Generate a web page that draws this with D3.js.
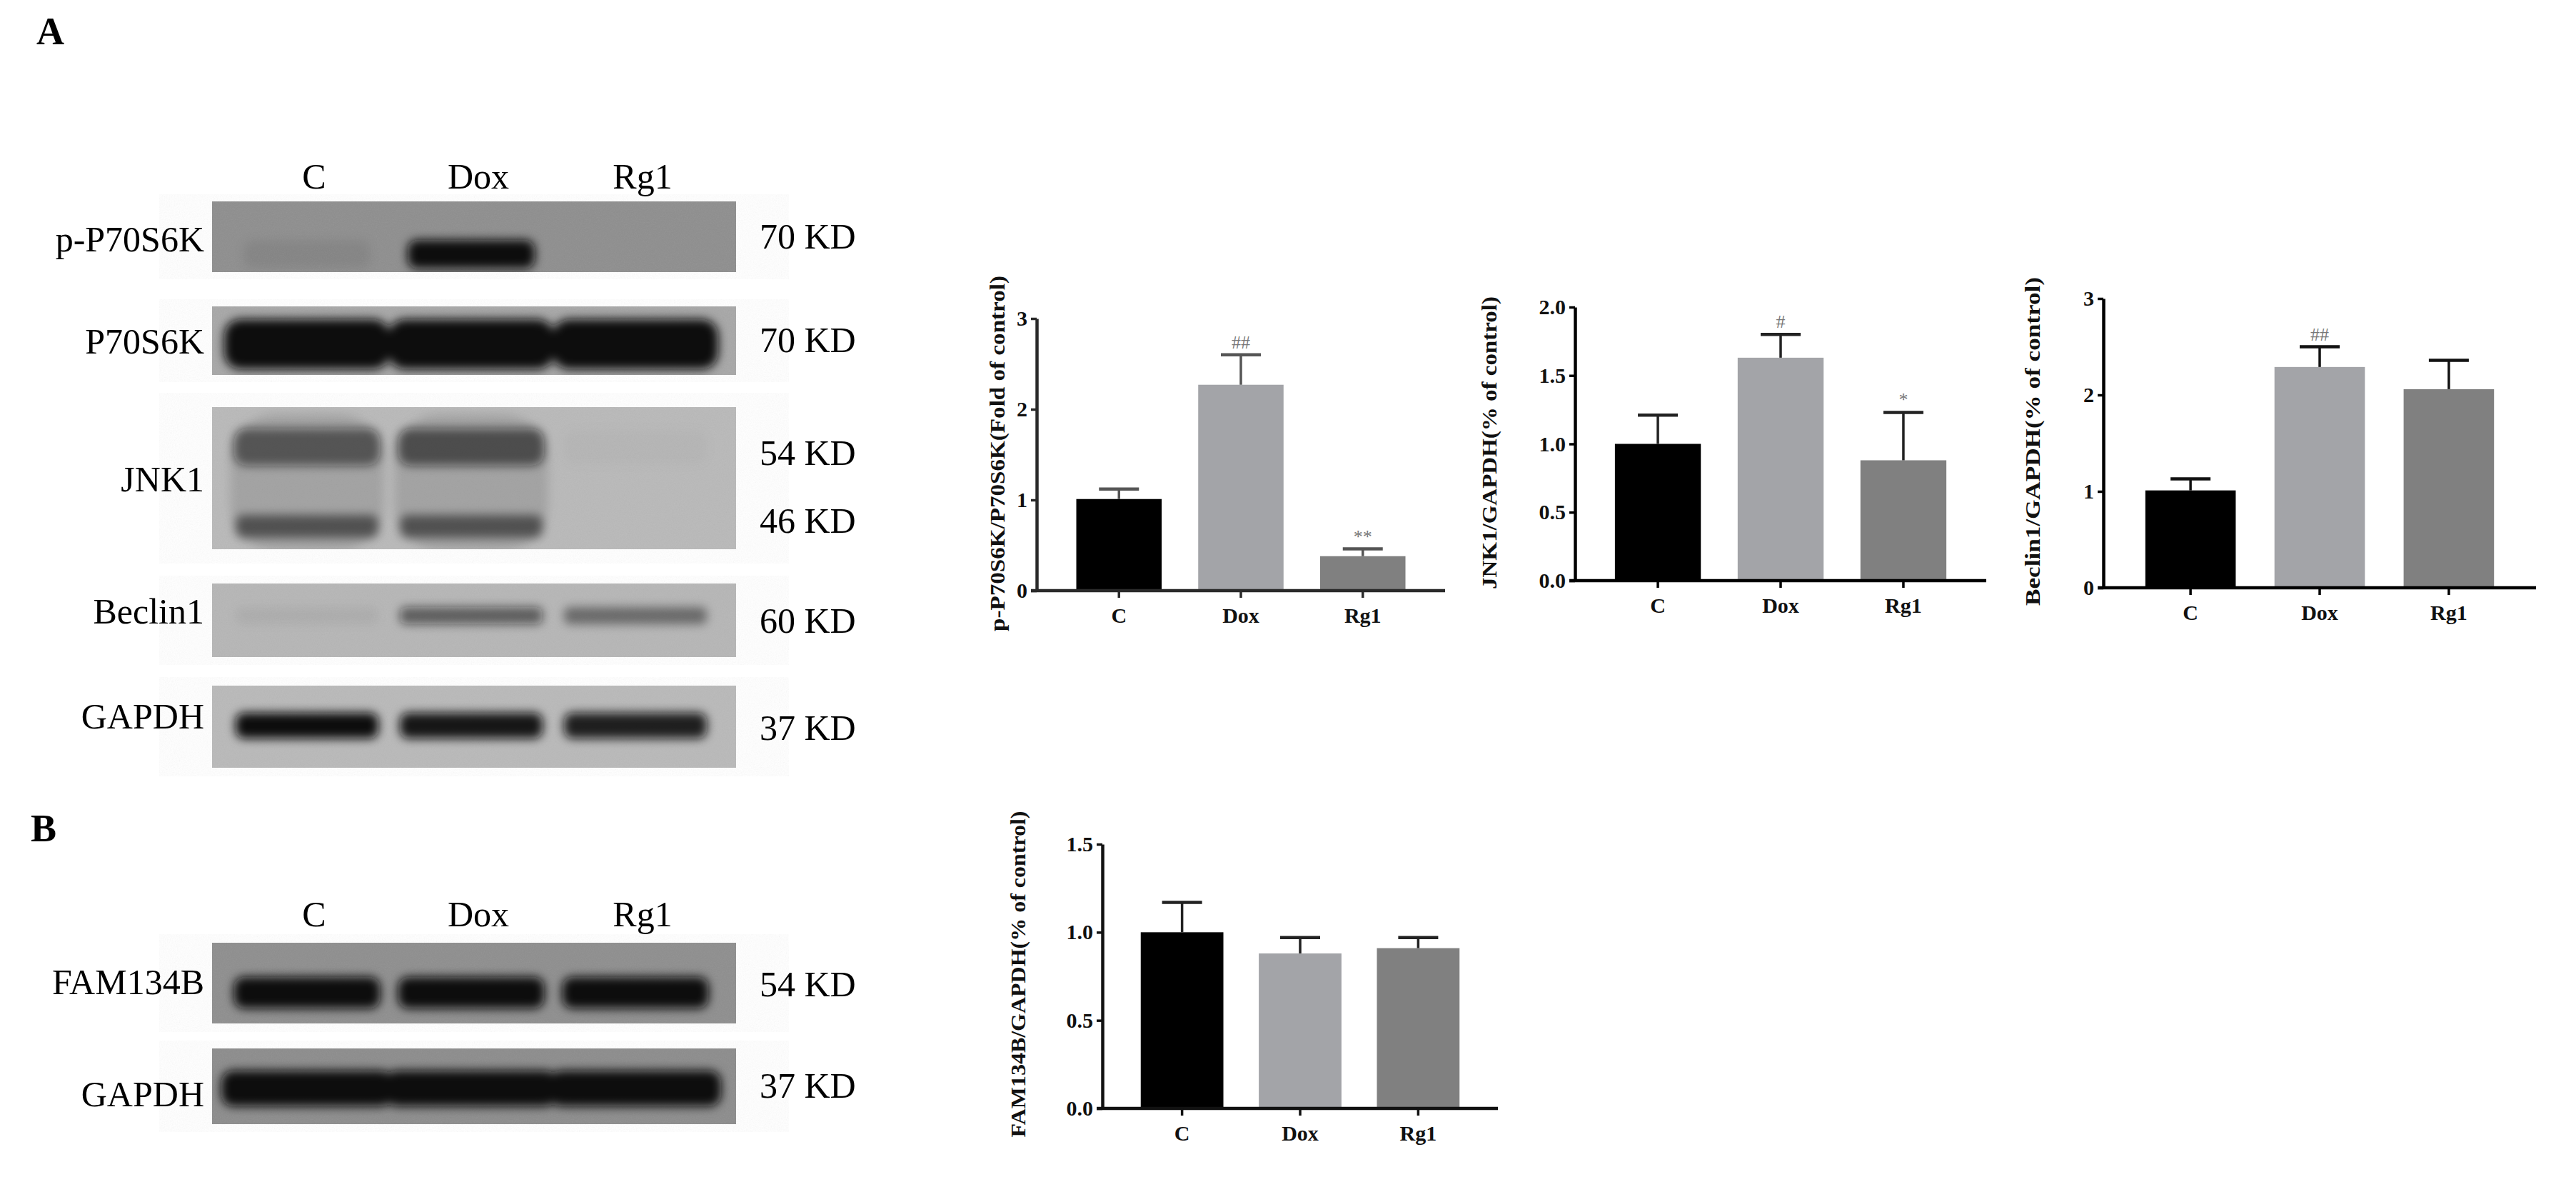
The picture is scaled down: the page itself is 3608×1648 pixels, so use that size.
<!DOCTYPE html>
<html>
<head>
<meta charset="utf-8">
<script src="https://cdn.jsdelivr.net/npm/d3@7"></script>
<style>
body { margin: 0; background: #fff; }
svg { display: block; }
</style>
</head>
<body>
<svg width="3608" height="1648"></svg>
<script>
// groups shared by blots and charts
var groups = ["C", "Dox", "Rg1"];

// densitometry (mean, upper SEM, significance marks)
var pS6KValues = [1.01, 2.27, 0.38];
var pS6KErr = [0.11, 0.33, 0.08];
var pS6KSig = ["", "##", "**"];

var jnkValues = [1.0, 1.63, 0.88];
var jnkErr = [0.21, 0.17, 0.35];
var jnkSig = ["", "#", "*"];

var beclinValues = [1.01, 2.29, 2.06];
var beclinErr = [0.12, 0.21, 0.30];
var beclinSig = ["", "##", ""];

var famValues = [1.0, 0.88, 0.91];
var famErr = [0.17, 0.09, 0.06];
var famSig = ["", "", ""];

var ticksFold = [0, 1, 2, 3];
var ticksJnk = [0, 0.5, 1.0, 1.5, 2.0];
var ticksFam = [0, 0.5, 1.0, 1.5];

// blot labels
var blotNamesA = ["p-P70S6K", "P70S6K", "JNK1", "Beclin1", "GAPDH"];
var blotNamesB = ["FAM134B", "GAPDH"];
var kdLabelsA = ["70 KD", "70 KD", "54 KD", "46 KD", "60 KD", "37 KD"];
var kdLabelsB = ["54 KD", "37 KD"];

// band darkness per lane (C, Dox, Rg1)
var pS6KBand = [0.07, 1.0, 0.0];
var s6kBand = [1.0, 1.0, 1.0];
var jnk54Band = [0.55, 0.6, 0.02];
var jnk46Band = [0.5, 0.5, 0.0];
var jnkSmear = [0.12, 0.12, 0.0];
var beclinBand = [0.05, 0.55, 0.42];
var gapdhBandA = [1.0, 0.95, 0.9];
var famBand = [1.0, 1.0, 1.0];
var gapdhBandB = [1.0, 1.0, 1.0];

var barColors = ["#000000", "#a3a4a8", "#808080"];
var serif = "'Liberation Serif', 'Times New Roman', serif";

var svg = d3.select("svg");
svg.append("rect").attr("width", 3608).attr("height", 1648).attr("fill", "#fff");

var defs = svg.append("defs");
defs.append("filter").attr("id", "blur").attr("x", "-30%").attr("y", "-80%").attr("width", "160%").attr("height", "260%")
    .append("feGaussianBlur").attr("stdDeviation", 7);
var grain = defs.append("filter").attr("id", "grain");
grain.append("feTurbulence").attr("type", "fractalNoise").attr("baseFrequency", 0.7).attr("numOctaves", 2).attr("seed", 4);
grain.append("feColorMatrix").attr("type", "saturate").attr("values", 0);

// panel letters
svg.append("text").attr("x", 51).attr("y", 62).text("A")
    .attr("font-family", serif).attr("font-weight", "bold").attr("font-size", 54);
svg.append("text").attr("x", 43).attr("y", 1178).text("B")
    .attr("font-family", serif).attr("font-weight", "bold").attr("font-size", 54);

// ---------- western blots ----------
var lane = d3.scalePoint().domain(groups).range([430, 890]);
var blotX0 = 297, blotX1 = 1031;

function laneLabels(y) {
    svg.append("g").selectAll("text")
        .data(groups)
        .enter()
        .append("text")
        .attr("x", function (d) { return lane(d) + 10; })
        .attr("y", y)
        .attr("text-anchor", "middle")
        .attr("font-family", serif)
        .attr("font-size", 50)
        .text(function (d) { return d; });
}

function drawBlot(b) {
    var g = svg.append("g");
    g.append("rect")
        .attr("x", blotX0).attr("y", b.top)
        .attr("width", blotX1 - blotX0).attr("height", b.h)
        .attr("fill", b.bg);
    g.append("rect")
        .attr("x", blotX0).attr("y", b.top)
        .attr("width", blotX1 - blotX0).attr("height", b.h)
        .attr("filter", "url(#grain)")
        .attr("opacity", 0.1);
    var clip = "clip" + b.top;
    defs.append("clipPath").attr("id", clip)
        .append("rect").attr("x", blotX0).attr("y", b.top)
        .attr("width", blotX1 - blotX0).attr("height", b.h);
    b.rows.forEach(function (r) {
        g.append("g").attr("clip-path", "url(#" + clip + ")")
            .append("g").attr("filter", "url(#blur)")
            .selectAll("rect")
            .data(r.vals)
            .enter()
            .append("rect")
            .attr("x", function (d, i) { return lane(groups[i]) - r.w / 2; })
            .attr("y", r.cy - r.h / 2)
            .attr("width", r.w)
            .attr("height", r.h)
            .attr("rx", r.h / 3)
            .attr("fill", "#0c0c0c")
            .attr("fill-opacity", function (d) { return d; });
    });
    g.append("text")
        .attr("x", 286).attr("y", b.labelY)
        .attr("text-anchor", "end")
        .attr("font-family", serif).attr("font-size", 50)
        .text(b.name);
    b.kd.forEach(function (k, i) {
        g.append("text")
            .attr("x", 1064).attr("y", b.kdY[i])
            .attr("font-family", serif).attr("font-size", 50)
            .text(k);
    });
}

laneLabels(264);
var blotsA = [
    { name: blotNamesA[0], top: 282, h: 99, bg: "#8e8e8e", labelY: 352, kd: [kdLabelsA[0]], kdY: [348],
      rows: [{ vals: pS6KBand, cy: 356, h: 40, w: 178 }] },
    { name: blotNamesA[1], top: 429, h: 96, bg: "#a7a7a7", labelY: 495, kd: [kdLabelsA[1]], kdY: [493],
      rows: [{ vals: s6kBand, cy: 482, h: 70, w: 232 }] },
    { name: blotNamesA[2], top: 570, h: 199, bg: "#b9b9b9", labelY: 688, kd: [kdLabelsA[2], kdLabelsA[3]], kdY: [651, 746],
      rows: [{ vals: jnkSmear, cy: 675, h: 190, w: 215 },
             { vals: jnk54Band, cy: 626, h: 52, w: 205 },
             { vals: jnk46Band, cy: 737, h: 32, w: 200 }] },
    { name: blotNamesA[3], top: 817, h: 103, bg: "#b6b6b6", labelY: 873, kd: [kdLabelsA[4]], kdY: [886],
      rows: [{ vals: beclinBand, cy: 862, h: 24, w: 200 }] },
    { name: blotNamesA[4], top: 960, h: 115, bg: "#b9b9b9", labelY: 1020, kd: [kdLabelsA[5]], kdY: [1036],
      rows: [{ vals: gapdhBandA, cy: 1016, h: 36, w: 200 }] }
];
blotsA.forEach(drawBlot);

laneLabels(1297);
var blotsB = [
    { name: blotNamesB[0], top: 1320, h: 113, bg: "#8e8e8e", labelY: 1392, kd: [kdLabelsB[0]], kdY: [1395],
      rows: [{ vals: famBand, cy: 1390, h: 44, w: 205 }] },
    { name: blotNamesB[1], top: 1468, h: 106, bg: "#8c8c8c", labelY: 1549, kd: [kdLabelsB[1]], kdY: [1537],
      rows: [{ vals: gapdhBandB, cy: 1524, h: 50, w: 240 }] }
];
blotsB.forEach(drawBlot);

// ---------- bar charts ----------
function drawChart(c) {
    var g = svg.append("g");
    var x = d3.scaleBand().domain(groups).range([c.x0, c.x1]).paddingInner(0.3).paddingOuter(0.325);
    var y = d3.scaleLinear().domain([0, c.max]).range([c.y0, c.y1]);
    var rows = groups.map(function (k, i) {
        return { key: k, v: c.values[i], e: c.err[i], s: c.sig[i], color: barColors[i] };
    });

    g.selectAll(".bar")
        .data(rows)
        .enter()
        .append("rect")
        .attr("x", function (d) { return x(d.key); })
        .attr("y", function (d) { return y(d.v); })
        .attr("width", x.bandwidth())
        .attr("height", function (d) { return y(0) - y(d.v); })
        .attr("fill", function (d) { return d.color; });

    var cap = 56;
    g.selectAll(".stem")
        .data(rows)
        .enter()
        .append("line")
        .attr("x1", function (d) { return x(d.key) + x.bandwidth() / 2; })
        .attr("x2", function (d) { return x(d.key) + x.bandwidth() / 2; })
        .attr("y1", function (d) { return y(d.v); })
        .attr("y2", function (d) { return y(d.v + d.e); })
        .attr("stroke", c.errColor)
        .attr("stroke-width", 3.5);
    g.selectAll(".cap")
        .data(rows)
        .enter()
        .append("line")
        .attr("x1", function (d) { return x(d.key) + x.bandwidth() / 2 - cap / 2; })
        .attr("x2", function (d) { return x(d.key) + x.bandwidth() / 2 + cap / 2; })
        .attr("y1", function (d) { return y(d.v + d.e); })
        .attr("y2", function (d) { return y(d.v + d.e); })
        .attr("stroke", c.errColor)
        .attr("stroke-width", 4.5);
    g.selectAll(".sig")
        .data(rows)
        .enter()
        .append("text")
        .attr("x", function (d) { return x(d.key) + x.bandwidth() / 2; })
        .attr("y", function (d) { return y(d.v + d.e) - 9; })
        .attr("text-anchor", "middle")
        .attr("font-family", serif)
        .attr("font-size", 26)
        .attr("fill", "#777")
        .text(function (d) { return d.s; });

    var ya = g.append("g")
        .attr("transform", "translate(" + c.x0 + ",0)")
        .call(d3.axisLeft(y).tickValues(c.ticks).tickFormat(d3.format(c.fmt)).tickSize(8).tickSizeOuter(0).tickPadding(5));
    var xa = g.append("g")
        .attr("transform", "translate(0," + c.y0 + ")")
        .call(d3.axisBottom(x).tickSize(10).tickSizeOuter(0).tickPadding(14));
    [ya, xa].forEach(function (a) {
        a.select(".domain").attr("stroke", c.axisColor).attr("stroke-width", 4.5);
        a.selectAll(".tick line").attr("stroke", c.axisColor).attr("stroke-width", 3.5);
        a.selectAll(".tick text").attr("fill", "#111").attr("font-family", serif)
            .attr("font-weight", "bold").attr("font-size", 30);
    });
    xa.select(".domain").attr("d", "M" + (c.x0 - 8) + ",0H" + c.x1);

    g.append("text")
        .attr("transform", "translate(" + c.tx + "," + c.ty + ") rotate(-90)")
        .attr("text-anchor", "middle")
        .attr("dominant-baseline", "central")
        .attr("font-family", serif)
        .attr("font-weight", "bold")
        .attr("font-size", 29)
        .attr("fill", "#111")
        .attr("textLength", c.tlen)
        .attr("lengthAdjust", "spacingAndGlyphs")
        .text(c.title);
}

drawChart({ x0: 1452, x1: 2024, y0: 827, y1: 446, max: 3, ticks: ticksFold, fmt: "d",
    values: pS6KValues, err: pS6KErr, sig: pS6KSig, errColor: "#555", axisColor: "#2a2a2a",
    title: "p-P70S6K/P70S6K(Fold of control)", tx: 1397, ty: 635, tlen: 498 });
drawChart({ x0: 2206, x1: 2782, y0: 813, y1: 430, max: 2, ticks: ticksJnk, fmt: ".1f",
    values: jnkValues, err: jnkErr, sig: jnkSig, errColor: "#222", axisColor: "#000",
    title: "JNK1/GAPDH(% of control)", tx: 2086, ty: 620, tlen: 410 });
drawChart({ x0: 2946, x1: 3552, y0: 823, y1: 418, max: 3, ticks: ticksFold, fmt: "d",
    values: beclinValues, err: beclinErr, sig: beclinSig, errColor: "#111", axisColor: "#000",
    title: "Beclin1/GAPDH(% of control)", tx: 2847, ty: 618, tlen: 460 });
drawChart({ x0: 1544, x1: 2098, y0: 1552, y1: 1182, max: 1.5, ticks: ticksFam, fmt: ".1f",
    values: famValues, err: famErr, sig: famSig, errColor: "#222", axisColor: "#111",
    title: "FAM134B/GAPDH(% of control)", tx: 1426, ty: 1364, tlen: 457 });
</script>
</body>
</html>
